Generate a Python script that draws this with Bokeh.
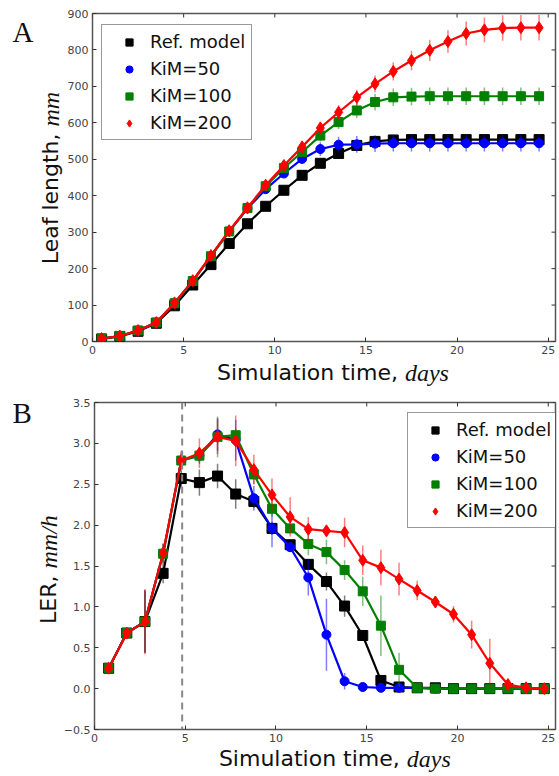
import math
from bokeh.plotting import figure
from bokeh.models import (Range1d, FixedTicker, Legend, LegendItem, Span,
                          ColumnDataSource)
from bokeh.layouts import column, row
from bokeh.core.properties import value
from bokeh.embed import file_html
from bokeh.resources import INLINE

# ---------------- data ----------------
series_names = ["Ref. model", "KiM=50", "KiM=100", "KiM=200"]
series_colors = ["#000000", "#0000ff", "#008000", "#ff0000"]
series_markers = ["square", "circle", "square", "diamond"]

# Panel A: leaf length (mm)
days_a = [0.5, 1.5, 2.5, 3.5, 4.5, 5.5, 6.5, 7.5, 8.5, 9.5, 10.5, 11.5, 12.5,
          13.5, 14.5, 15.5, 16.5, 17.5, 18.5, 19.5, 20.5, 21.5, 22.5, 23.5, 24.5]
len_ref = [7, 14, 28, 50, 98, 155, 211, 269, 323, 371, 415, 456, 489, 516, 538,
           549, 553, 554, 554, 554, 554, 554, 554, 554, 554]
len_k50 = [8, 15, 30, 52, 105, 166, 234, 302, 365, 418, 461, 501, 528, 540, 541,
           543, 544, 544, 544, 544, 544, 544, 544, 544, 544]
len_k100 = [8, 15, 30, 52, 105, 166, 234, 302, 366, 426, 476, 520, 565, 602, 634,
            657, 670, 672, 673, 673, 673, 673, 673, 673, 673]
len_k200 = [8, 15, 30, 52, 106, 167, 236, 304, 367, 429, 483, 534, 586, 629, 670,
            707, 741, 771, 799, 823, 845, 855, 860, 861, 861]
len_err_ref = [1, 1, 2, 2, 3, 4, 4, 5, 5, 5, 5, 5, 5, 5, 6, 6, 6, 6, 6, 6, 6, 6, 6, 6, 6]
len_err_k50 = [1, 1, 2, 2, 3, 4, 5, 6, 7, 8, 10, 14, 19, 22, 23, 23, 23, 23, 23, 23,
               23, 23, 23, 23, 23]
len_err_k100 = [1, 1, 2, 2, 3, 4, 5, 6, 7, 8, 10, 13, 16, 19, 21, 23, 24, 24, 24, 24,
                24, 24, 24, 24, 24]
len_err_k200 = [1, 1, 2, 2, 3, 4, 5, 6, 7, 9, 11, 14, 17, 19, 21, 23, 25, 27, 29, 31,
                33, 34, 35, 35, 35]

# Panel B: leaf elongation rate (mm/h)
days_b = [0.78, 1.78, 2.78, 3.78, 4.78, 5.78, 6.78, 7.78, 8.78, 9.78, 10.78, 11.78,
          12.78, 13.78, 14.78, 15.78, 16.78, 17.78, 18.78, 19.78, 20.78, 21.78,
          22.78, 23.78, 24.78]
ler_ref = [0.25, 0.68, 0.82, 1.41, 2.57, 2.52, 2.60, 2.38, 2.29, 1.96, 1.76, 1.52,
           1.31, 1.01, 0.65, 0.10, 0.02, 0.01, 0.01, 0.0, 0.0, 0.0, 0.0, 0.0, 0.0]
ler_k50 = [0.25, 0.68, 0.82, 1.65, 2.79, 2.85, 3.11, 3.04, 2.33, 1.96, 1.73, 1.36,
           0.66, 0.09, 0.02, 0.01, 0.01, 0.01, 0.0, 0.0, 0.0, 0.0, 0.0, 0.0, 0.0]
ler_k100 = [0.25, 0.68, 0.82, 1.65, 2.79, 2.85, 3.08, 3.10, 2.62, 2.20, 1.96, 1.77,
            1.67, 1.45, 1.19, 0.77, 0.23, 0.01, 0.0, 0.0, 0.0, 0.0, 0.0, 0.0, 0.0]
ler_k200 = [0.25, 0.68, 0.82, 1.66, 2.79, 2.88, 3.08, 3.03, 2.68, 2.37, 2.10, 1.95,
            1.93, 1.91, 1.57, 1.48, 1.34, 1.20, 1.06, 0.91, 0.66, 0.31, 0.05, 0.01, 0.0]
ler_err_ref = [0.03, 0.06, 0.38, 0.12, 0.10, 0.16, 0.15, 0.18, 0.08, 0.08, 0.06, 0.06,
               0.11, 0.13, 0.06, 0.04, 0.01, 0, 0, 0, 0, 0, 0, 0, 0]
ler_err_k50 = [0.03, 0.06, 0.38, 0.12, 0.10, 0.10, 0.20, 0.25, 0.15, 0.23, 0.06, 0.22,
               0.44, 0.10, 0.02, 0.01, 0, 0, 0, 0, 0, 0, 0, 0, 0]
ler_err_k100 = [0.03, 0.06, 0.38, 0.12, 0.08, 0.08, 0.25, 0.08, 0.12, 0.10, 0.06, 0.14,
                0.15, 0.12, 0.18, 0.37, 0.21, 0.01, 0, 0, 0, 0, 0, 0, 0]
ler_err_k200 = [0.03, 0.06, 0.40, 0.12, 0.12, 0.18, 0.21, 0.31, 0.18, 0.20, 0.24, 0.15,
                0.05, 0.18, 0.18, 0.22, 0.20, 0.12, 0.07, 0.10, 0.17, 0.30, 0.05, 0.02, 0.02]
emergence_day = 4.83

x_ticks = [0, 5, 10, 15, 20, 25]
ya_ticks = [0, 100, 200, 300, 400, 500, 600, 700, 800, 900]
yb_ticks = [-0.5, 0.0, 0.5, 1.0, 1.5, 2.0, 2.5, 3.0, 3.5]
yb_labels = ["\u22120.5", "0.0", "0.5", "1.0", "1.5", "2.0", "2.5", "3.0", "3.5"]

FONT = "DejaVu Sans"
MATH_FONT = "Liberation Serif"
LETTER_FONT = "Liberation Serif"
TICK_COLOR = "#444444"
TEXT_COLOR = "#111111"
X_MAX = 25.4


def make_fig(width, height, yrange, yticks, left, top, bottom):
    p = figure(width=width, height=height, x_range=Range1d(0, X_MAX),
               y_range=Range1d(*yrange), output_backend="svg",
               toolbar_location=None, min_border_left=left, min_border_right=4,
               min_border_top=top, min_border_bottom=bottom)
    p.grid.visible = False
    p.outline_line_color = "#555555"
    p.outline_line_width = 1.5
    p.background_fill_color = "white"
    p.border_fill_color = "white"
    for ax in (p.xaxis[0], p.yaxis[0]):
        ax.axis_line_color = None
        ax.major_tick_in = 4
        ax.major_tick_out = 0
        ax.major_tick_line_color = "#333333"
        ax.minor_tick_line_color = None
        ax.major_label_text_font = FONT
        ax.major_label_text_font_size = "11px"
        ax.major_label_text_color = TICK_COLOR
    p.xaxis.ticker = FixedTicker(ticks=x_ticks)
    p.yaxis.ticker = FixedTicker(ticks=yticks)
    p.xaxis.major_label_standoff = 4
    p.yaxis.major_label_standoff = 4
    # inward ticks on the top and right edges of the box
    p.ray(x=x_ticks, y=[yrange[1]] * len(x_ticks), length=4, length_units="screen",
          angle=-math.pi / 2, line_color="#333333", line_width=1)
    p.ray(x=[X_MAX] * len(yticks), y=yticks, length=4, length_units="screen",
          angle=math.pi, line_color="#333333", line_width=1)
    return p


def draw_series(p, xs, ys_list, errs_list, sizes):
    legend_items = []
    for name, color, marker, ys, errs, size in zip(series_names, series_colors,
                                                   series_markers, ys_list, errs_list, sizes):
        lo = [y - e for y, e in zip(ys, errs)]
        hi = [y + e for y, e in zip(ys, errs)]
        src = ColumnDataSource(dict(x=xs, y=ys, lo=lo, hi=hi))
        p.segment(x0="x", y0="lo", x1="x", y1="hi", source=src,
                  line_color=color, line_alpha=0.5, line_width=1.5)
        p.line("x", "y", source=src, line_color=color, line_width=2.2)
        r = p.scatter("x", "y", source=src, marker=marker, size=size,
                      fill_color=color, line_color=color, line_width=1)
        legend_items.append(LegendItem(label=name, renderers=[r]))
    return legend_items


def add_legend(p, items, loc):
    lg = Legend(items=items, location=loc, label_text_font=FONT,
                label_text_font_size="18px", label_text_color=TEXT_COLOR,
                border_line_color="#333333", border_line_width=1,
                background_fill_alpha=1.0, padding=6, spacing=6,
                glyph_width=42, glyph_height=18, label_height=20,
                label_standoff=0, margin=0)
    p.add_layout(lg)


def text_fig(width, height):
    t = figure(width=width, height=height, x_range=Range1d(0, width),
               y_range=Range1d(0, height), output_backend="svg",
               toolbar_location=None, x_axis_type=None, y_axis_type=None,
               min_border=0, min_border_left=0, min_border_right=0,
               min_border_top=0, min_border_bottom=0)
    t.outline_line_color = None
    t.background_fill_color = "white"
    t.border_fill_color = "white"
    return t


def put_text(t, x, y_top, txt, font, size, style="normal", align="left", angle=0.0):
    # (x, y_top): anchor in pixels from the strip's top-left; vertically centred text
    t.text(x=[x], y=[t.height - y_top], text=[txt], text_font=value(font),
           text_font_size=value(size), text_font_style=style, text_align=align,
           text_baseline="middle", angle=angle, text_color=TEXT_COLOR)


sizes = [10, 9, 9, 12]
UP = math.pi / 2

# ---------------- Panel A ----------------
LEFT_A = 64
pa = make_fig(559 - LEFT_A, 359, (0, 900), ya_ticks, 27, 13, 18)
items_a = draw_series(pa, days_a, [len_ref, len_k50, len_k100, len_k200],
                      [len_err_ref, len_err_k50, len_err_k100, len_err_k200], sizes)
add_legend(pa, items_a, (9, 201))

left_a = text_fig(LEFT_A, 390)
put_text(left_a, 12, 31, "A", LETTER_FONT, "29px")
put_text(left_a, 50, 126, "Leaf length, ", FONT, "22px", align="right", angle=UP)
put_text(left_a, 50, 126, "mm", MATH_FONT, "24px", style="italic", angle=UP)

xlab_a = text_fig(559 - LEFT_A, 31)
put_text(xlab_a, 398 - LEFT_A, 13, "Simulation time, ", FONT, "22px", align="right")
put_text(xlab_a, 398 - LEFT_A, 13, "days", MATH_FONT, "24px", style="italic")

# ---------------- Panel B ----------------
LEFT_B = 60
pb = make_fig(559 - LEFT_B, 357, (-0.5, 3.5), yb_ticks, 31, 12, 18)
pb.yaxis[0].major_label_overrides = dict(zip(yb_ticks, yb_labels))
pb.add_layout(Span(location=emergence_day, dimension="height", line_color="#888888",
                   line_width=2, line_dash="7 5"))
items_b = draw_series(pb, days_b, [ler_ref, ler_k50, ler_k100, ler_k200],
                      [ler_err_ref, ler_err_k50, ler_err_k100, ler_err_k200], sizes)
add_legend(pb, items_b, (313, 201))

left_b = text_fig(LEFT_B, 386)
put_text(left_b, 12, 22, "B", LETTER_FONT, "29px")
put_text(left_b, 48, 178, "LER, ", FONT, "22px", align="right", angle=UP)
put_text(left_b, 48, 178, "mm/h", MATH_FONT, "24px", style="italic", angle=UP)

xlab_b = text_fig(559 - LEFT_B, 29)
put_text(xlab_b, 398 - LEFT_B, 11, "Simulation time, ", FONT, "22px", align="right")
put_text(xlab_b, 398 - LEFT_B, 11, "days", MATH_FONT, "24px", style="italic")

layout = column(
    row(left_a, column(pa, xlab_a, spacing=0), spacing=0),
    row(left_b, column(pb, xlab_b, spacing=0), spacing=0),
    spacing=0,
)
open("out.html", "w").write(file_html(layout, INLINE))
